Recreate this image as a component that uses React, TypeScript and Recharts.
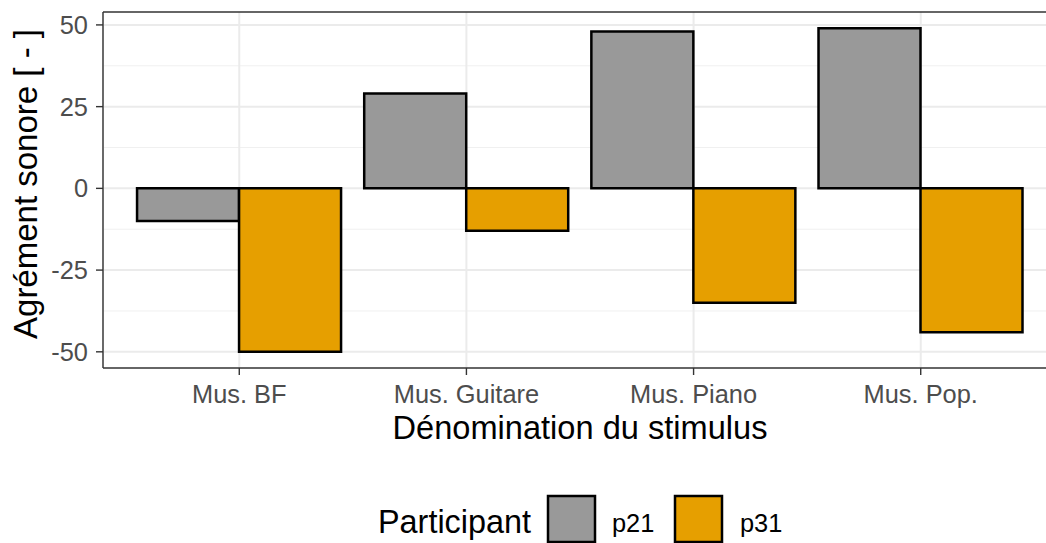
import { Bar, BarChart, CartesianGrid, Label, ReferenceLine, XAxis, YAxis } from "recharts";

const CATEGORIES = ["Mus. BF", "Mus. Guitare", "Mus. Piano", "Mus. Pop."];
const P21 = [-10, 29, 48, 49];
const P31 = [-50, -13, -35, -44];
const Y_TICKS = [-50, -25, 0, 25, 50];
const Y_MINOR = [-37.5, -12.5, 12.5, 37.5];
const Y_DOMAIN: [number, number] = [-54.95, 53.95];

const SERIES = [
  { key: "p21", color: "#999999" },
  { key: "p31", color: "#E69F00" },
];

const data = CATEGORIES.map((name, i) => ({ name, p21: P21[i], p31: P31[i] }));

const FONT = '"Liberation Sans", Arial, sans-serif';
const BORDER = "#333333";
const GRID = "#EBEBEB";

function XTitle({ viewBox }: any) {
  return (
    <text x={viewBox.x + viewBox.width / 2} y={viewBox.y + 71} textAnchor="middle" fontSize={32.6} fill="#000">
      Dénomination du stimulus
    </text>
  );
}

function YTitle({ viewBox }: any) {
  const x = viewBox.x + 37;
  const y = viewBox.y + viewBox.height / 2 - 6;
  return (
    <text x={x} y={y} transform={`rotate(-90, ${x}, ${y})`} textAnchor="middle" fontSize={33} fill="#000">
      Agrément sonore [ - ]
    </text>
  );
}

function LegendBox() {
  return (
    <svg width={1046} height={60} style={{ position: "absolute", left: 0, top: 483 }}>
      <text x={378} y={50} fontSize={32.4} fill="#000">Participant</text>
      <rect x={548} y={13} width={47} height={46} fill={SERIES[0].color} stroke="#000" strokeWidth={2.5} />
      <text x={612} y={49} fontSize={25.4} fill="#000">p21</text>
      <rect x={675} y={13} width={47} height={46} fill={SERIES[1].color} stroke="#000" strokeWidth={2.5} />
      <text x={740} y={49} fontSize={25.4} fill="#000">p31</text>
    </svg>
  );
}

export default function App() {
  return (
    <div
      style={{
        position: "absolute",
        left: 0,
        top: 0,
        width: 1046,
        height: 543,
        overflow: "hidden",
        background: "#fff",
        fontFamily: FONT,
      }}
    >
      <BarChart
        width={1060}
        height={543}
        data={data}
        margin={{ top: 12, right: 3, left: 0, bottom: 95 }}
        barCategoryGap="5%"
        barGap={0}
      >
        <CartesianGrid horizontalValues={Y_MINOR} vertical={false} stroke="#F0F0F0" strokeWidth={1} />
        <CartesianGrid horizontalValues={Y_TICKS} stroke={GRID} strokeWidth={2} />
        <XAxis
          dataKey="name"
          height={80}
          padding={{ left: 22.7, right: 22.7 }}
          tickSize={7}
          tickMargin={10}
          tick={{ fill: "#4D4D4D", fontSize: 25.4 }}
          tickLine={{ stroke: BORDER, strokeWidth: 1.4 }}
          axisLine={{ stroke: BORDER, strokeWidth: 1.4 }}
        >
          <Label content={XTitle} />
        </XAxis>
        <YAxis
          width={103}
          domain={Y_DOMAIN}
          ticks={Y_TICKS}
          allowDataOverflow
          tickSize={7}
          tickMargin={8}
          tick={{ fill: "#4D4D4D", fontSize: 25.4 }}
          tickLine={{ stroke: BORDER, strokeWidth: 1.4 }}
          axisLine={{ stroke: BORDER, strokeWidth: 1.4 }}
        >
          <Label content={YTitle} />
        </YAxis>
        <ReferenceLine y={Y_DOMAIN[1]} stroke={BORDER} strokeWidth={1.4} />
        {SERIES.map((s) => (
          <Bar key={s.key} dataKey={s.key} fill={s.color} stroke="#000" strokeWidth={2.5} isAnimationActive={false} />
        ))}
      </BarChart>
      <LegendBox />
    </div>
  );
}
